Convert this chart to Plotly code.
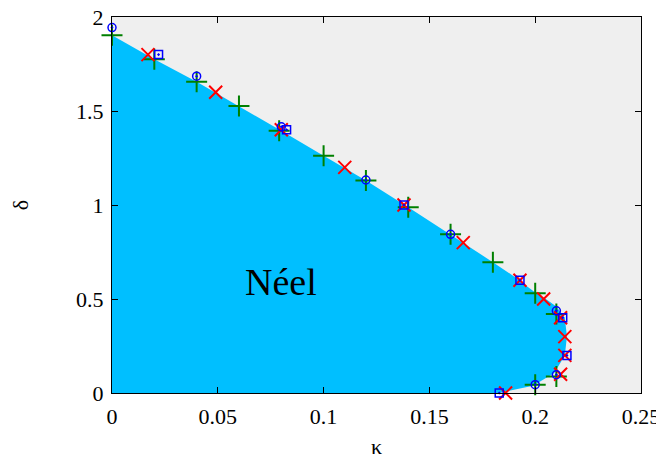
import plotly.graph_objects as go

# Phase boundary (edge of the Néel region)
boundary_kappa = [0.0, 0.02, 0.04, 0.06, 0.08, 0.10, 0.12, 0.14, 0.16, 0.18, 0.19, 0.20,
                  0.205, 0.21, 0.214, 0.215, 0.214, 0.209, 0.199, 0.183, 0.0]
boundary_delta = [1.903, 1.775, 1.655, 1.527, 1.395, 1.262, 1.13, 0.988, 0.844, 0.696, 0.62, 0.535,
                  0.5, 0.46, 0.4, 0.3, 0.2, 0.106, 0.039, 0.0, 0.0]

# Blue circles
circ_kappa = [0.0, 0.04, 0.08, 0.12, 0.16, 0.21, 0.21, 0.2]
circ_delta = [1.944, 1.685, 1.416, 1.133, 0.844, 0.437, 0.097, 0.044]

# Blue squares
sq_kappa = [0.022, 0.0825, 0.138, 0.1928, 0.213, 0.215, 0.183]
sq_delta = [1.8, 1.4, 1.0, 0.6, 0.4, 0.2, 0.0]

# Red crosses
x_kappa = [0.017, 0.049, 0.08, 0.11, 0.138, 0.166, 0.1928, 0.204, 0.212, 0.214, 0.214, 0.212, 0.186]
x_delta = [1.8, 1.6, 1.4, 1.2, 1.0, 0.8, 0.6, 0.5, 0.4, 0.3, 0.2, 0.1, 0.0]

# Green plus
p_kappa = [0.0, 0.02, 0.04, 0.06, 0.079, 0.10, 0.12, 0.14, 0.16, 0.18, 0.20, 0.21, 0.21, 0.20]
p_delta = [1.903, 1.775, 1.655, 1.527, 1.395, 1.262, 1.13, 0.988, 0.844, 0.696, 0.531, 0.42, 0.088, 0.044]

x_ticks = [0, 0.05, 0.1, 0.15, 0.2, 0.25]
x_tick_labels = ["0", "0.05", "0.1", "0.15", "0.2", "0.25"]
y_ticks = [0, 0.5, 1, 1.5, 2]
y_tick_labels = ["0", "0.5", "1", "1.5", "2"]

FONT = "Liberation Serif"
BLUE = "rgb(0,0,255)"
RED = "rgb(255,0,0)"
GREEN = "rgb(0,128,0)"

fig = go.Figure()
fig.add_trace(go.Scatter(x=boundary_kappa, y=boundary_delta, fill="toself",
                         fillcolor="rgb(0,191,255)", line=dict(width=0),
                         mode="lines", hoverinfo="skip", showlegend=False))
fig.add_trace(go.Scatter(x=p_kappa, y=p_delta, mode="markers", cliponaxis=False,
                         marker=dict(symbol="cross-thin-open", size=15, color=GREEN,
                                     line=dict(color=GREEN, width=2)),
                         showlegend=False))
fig.add_trace(go.Scatter(x=x_kappa, y=x_delta, mode="markers", cliponaxis=False,
                         marker=dict(symbol="x-thin-open", size=13, color=RED,
                                     line=dict(color=RED, width=2)),
                         showlegend=False))
fig.add_trace(go.Scatter(x=circ_kappa, y=circ_delta, mode="markers", cliponaxis=False,
                         marker=dict(symbol="circle-open-dot", size=8, color=BLUE,
                                     line=dict(color=BLUE, width=1.5)),
                         showlegend=False))
fig.add_trace(go.Scatter(x=sq_kappa, y=sq_delta, mode="markers", cliponaxis=False,
                         marker=dict(symbol="square-open-dot", size=8, color=BLUE,
                                     line=dict(color=BLUE, width=1.5)),
                         showlegend=False))

fig.add_annotation(x=0.0797, y=0.59, text="Néel", showarrow=False,
                   font=dict(family=FONT, size=38, color="black"),
                   xanchor="center", yanchor="middle")

tickfont = dict(family=FONT, size=22, color="black")
fig.update_layout(
    template="simple_white",
    width=656, height=451,
    margin=dict(l=104, r=23, t=9, b=66, autoexpand=False),
    paper_bgcolor="white", plot_bgcolor="rgb(239,239,239)",
    font=dict(family=FONT, size=22, color="black"),
    xaxis=dict(range=[0, 0.25], tickvals=x_ticks, ticktext=x_tick_labels,
               showgrid=False, zeroline=False, showline=True, linecolor="black",
               linewidth=1, mirror="ticks", ticks="inside", ticklen=6,
               tickcolor="black", tickfont=tickfont, automargin=False,
               ticklabelstandoff=4, ticklabeloverflow="allow",
               title=dict(text="κ", font=dict(family=FONT, size=22), standoff=14)),
    yaxis=dict(range=[0, 2], tickvals=y_ticks, ticktext=y_tick_labels,
               showgrid=False, zeroline=False, showline=True, linecolor="black",
               linewidth=1, mirror="ticks", ticks="inside", ticklen=6,
               tickcolor="black", tickfont=tickfont, automargin=False,
               ticklabelstandoff=3, ticklabeloverflow="allow",
               title=dict(text="δ", font=dict(family=FONT, size=22), standoff=48)),
)

fig.write_html("out.html")
